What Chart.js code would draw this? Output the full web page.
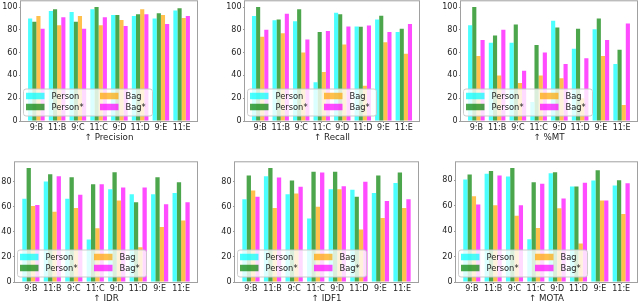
<!DOCTYPE html>
<html><head><meta charset="utf-8">
<script src="https://cdn.jsdelivr.net/npm/chart.js@4/dist/chart.umd.min.js"></script>
<style>
html,body{margin:0;padding:0;background:#fff;width:640px;height:303px;overflow:hidden;position:relative;}
.box{position:absolute;}
</style></head><body>
<script>
// ---------- data ----------
const categories = ['9:B','11:B','9:C','11:C','9:D','11:D','9:E','11:E'];
const seriesNames = ['Person','Person*','Bag','Bag*'];
const yTicksTop = [0,20,40,60,80,100];
const yTicksBottom = [0,20,40,60,80];

const precisionPerson     = [90, 96.5, 95.6, 98, 93, 92, 90, 97];
const precisionPersonStar = [87, 98, 87, 100, 93, 93.6, 94.5, 99];
const precisionBag        = [92, 84, 92, 84, 88.6, 98, 93, 90.4];
const precisionBagStar    = [81, 91, 81, 91, 83.4, 93.6, 85, 92];

const recallPerson     = [92, 88.4, 87.5, 34, 95, 83, 89, 78];
const recallPersonStar = [100, 89, 98, 78, 93.6, 82.6, 92.4, 81];
const recallBag        = [74, 77, 60, 43, 67, 31, 69, 59];
const recallBagStar    = [80, 94, 71.5, 79, 83, 83.7, 78, 85];

const mtPerson     = [84, 68.6, 68.6, 16.6, 88, 63.4, 80.5, 50];
const mtPersonStar = [100, 75, 84.6, 66.6, 82, 81, 90, 62.5];
const mtBag        = [57, 40, 33.4, 40, 37.5, 20, 57, 14];
const mtBagStar    = [71, 80, 44, 60, 50, 55, 71, 85.5];

const idrPerson     = [66.5, 80.3, 66.5, 34, 74, 70, 70, 71];
const idrPersonStar = [91, 86, 83.7, 78, 87.7, 63.6, 83.7, 79.7];
const idrBag        = [60.7, 56, 59, 43, 65, 27.8, 44, 49];
const idrBagStar    = [61.5, 84.5, 69.7, 78, 75.5, 75.5, 62, 63.6];

const idf1Person     = [66, 84.5, 70, 50.6, 74, 73.6, 71, 79];
const idf1PersonStar = [85, 91, 81, 88, 88, 68, 85, 87.4];
const idf1Bag        = [73, 59, 70.7, 60, 74, 42, 51, 59];
const idf1BagStar    = [68, 83.4, 76, 87.4, 76.5, 80, 64.6, 66];

const motaPerson     = [80.5, 85, 83, 33.6, 85.4, 75, 79.7, 75.8];
const motaPersonStar = [84.4, 87.2, 89.6, 78.4, 86.2, 75, 87.8, 80];
const motaBag        = [67.4, 60.4, 52, 42.4, 58, 30.2, 64, 53.4];
const motaBagStar    = [61, 83.8, 60.4, 77.3, 65.6, 78, 64, 77.6];

const titles = ['↑ Precision','↑ Recall','↑ %MT','↑ IDR','↑ IDF1','↑ MOTA'];
const panelSeries = [
  [precisionPerson, precisionPersonStar, precisionBag, precisionBagStar],
  [recallPerson, recallPersonStar, recallBag, recallBagStar],
  [mtPerson, mtPersonStar, mtBag, mtBagStar],
  [idrPerson, idrPersonStar, idrBag, idrBagStar],
  [idf1Person, idf1PersonStar, idf1Bag, idf1BagStar],
  [motaPerson, motaPersonStar, motaBag, motaBagStar]
];
const panelTicks = [yTicksTop, yTicksTop, yTicksTop, yTicksBottom, yTicksBottom, yTicksBottom];

// ---------- layout / style ----------
const frames = [ // left, top, right, bottom of plot frame
  [21, 1, 197, 121], [245, 1, 419, 121], [461, 1, 637, 121],
  [15, 162, 197, 282], [235, 162, 418, 282], [456, 162, 637, 282]
];
const colors = ['rgba(0,255,255,0.7)','rgba(0,128,0,0.7)','rgba(255,165,0,0.7)','rgba(255,0,255,0.7)'];
const FONT = 'DejaVu Sans';
const YW = 22, PADT = 6, PADR = 3, XH = 22;

const framePlugin = {
  id: 'frame',
  afterDatasetsDraw(chart) {
    const a = chart.chartArea, ctx = chart.ctx;
    ctx.save();
    ctx.strokeStyle = '#a0a0a0';
    ctx.lineWidth = 1;
    ctx.strokeRect(a.left - 0.5, a.top - 0.5, a.right - a.left + 1, a.bottom - a.top + 1);
    ctx.restore();
  }
};
const innerLegend = {
  id: 'innerLegend',
  afterDraw(chart) {
    const a = chart.chartArea, ctx = chart.ctx;
    const x0 = a.left + 2.5, y0 = a.bottom - 32, w = 129, h = 27, r = 2.5;
    ctx.save();
    ctx.beginPath();
    ctx.moveTo(x0 + r, y0);
    ctx.arcTo(x0 + w, y0, x0 + w, y0 + h, r);
    ctx.arcTo(x0 + w, y0 + h, x0, y0 + h, r);
    ctx.arcTo(x0, y0 + h, x0, y0, r);
    ctx.arcTo(x0, y0, x0 + w, y0, r);
    ctx.closePath();
    ctx.fillStyle = 'rgba(255,255,255,0.8)';
    ctx.fill();
    ctx.strokeStyle = 'rgba(200,200,200,0.9)';
    ctx.lineWidth = 1;
    ctx.stroke();
    ctx.font = '8.3px "' + FONT + '"';
    ctx.textBaseline = 'middle';
    ctx.textAlign = 'left';
    chart.data.datasets.forEach((ds, i) => {
      const col = i < 2 ? 0 : 1, row = i % 2;
      const cy = a.bottom - (row ? 14 : 25);
      const hx = a.left + (col ? 79 : 5);
      ctx.fillStyle = ds.backgroundColor;
      ctx.fillRect(hx, cy - 3.25, 18.5, 6.5);
      ctx.fillStyle = '#222';
      ctx.fillText(ds.label, a.left + (col ? 104.5 : 30.5), cy + 0.5);
    });
    ctx.restore();
  }
};

panelSeries.forEach((series, p) => {
  const [l, t, r, b] = frames[p];
  const div = document.createElement('div');
  div.className = 'box';
  div.style.left = (l - YW) + 'px';
  div.style.top = (t - PADT) + 'px';
  div.style.width = (r - l + YW + PADR) + 'px';
  div.style.height = (b - t + PADT + XH) + 'px';
  const cv = document.createElement('canvas');
  div.appendChild(cv);
  document.body.appendChild(div);
  const allVals = series.flat();
  const ymax = Math.max(...allVals) * 1.05;
  const ticks = panelTicks[p];
  new Chart(cv, {
    type: 'bar',
    data: {
      datasets: series.map((vals, i) => ({
        label: seriesNames[i],
        data: vals.map((v, k) => ({ x: k, y: v })),
        backgroundColor: colors[i],
        borderWidth: 0,
        categoryPercentage: 0.8,
        barPercentage: 1.0
      }))
    },
    options: {
      responsive: true,
      maintainAspectRatio: false,
      animation: false,
      devicePixelRatio: 1,
      layout: { padding: { top: PADT, right: PADR, left: 0, bottom: 0 } },
      plugins: { legend: { display: false }, tooltip: { enabled: false }, title: { display: false } },
      scales: {
        x: {
          type: 'linear',
          offset: false,
          min: -0.74,
          max: categories.length - 1 + 0.74,
          afterBuildTicks: axis => { axis.ticks = categories.map((c, k) => ({ value: k })); },
          afterFit: axis => { axis.height = XH; },
          grid: { drawOnChartArea: false, drawTicks: true, tickLength: 2, color: '#999', offset: false },
          border: { display: false },
          ticks: {
            autoSkip: false, maxRotation: 0, padding: 0,
            color: '#222', font: { family: FONT, size: 8 },
            callback: v => categories[v]
          },
          title: { display: true, text: titles[p], color: '#222', font: { family: FONT, size: 8.7 }, padding: { top: 0, bottom: 0 } }
        },
        y: {
          min: 0,
          max: ymax,
          afterBuildTicks: axis => { axis.ticks = ticks.map(v => ({ value: v })); },
          afterFit: axis => { axis.width = YW; },
          grid: { drawOnChartArea: false, drawTicks: true, tickLength: 2, color: '#999' },
          border: { display: false },
          ticks: { padding: 1.5, color: '#222', font: { family: FONT, size: 8 } }
        }
      }
    },
    plugins: [framePlugin, innerLegend]
  });
});
</script>
</body></html>
